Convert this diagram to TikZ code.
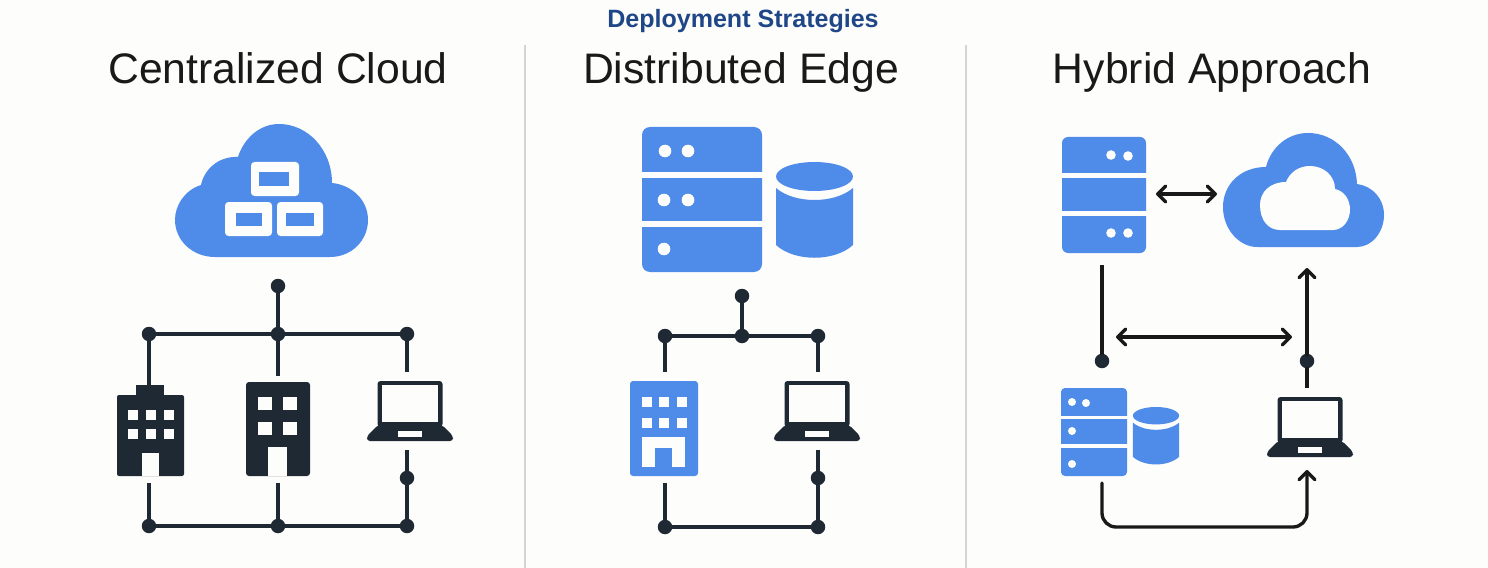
\documentclass[tikz,border=0pt]{standalone}
\usepackage{fontspec}
\setmainfont{Liberation Sans}
\usepackage{xcolor}
\usetikzlibrary{arrows.meta}
\definecolor{paper}{HTML}{FDFDFC}
\definecolor{iconblue}{HTML}{4F8BE8}
\definecolor{ink}{HTML}{1F2933}
\definecolor{titleblue}{HTML}{1F4788}
\definecolor{rulegray}{HTML}{D4D4D2}
\tikzset{
  junction/.style={circle,fill=ink,inner sep=0pt,outer sep=-0.5pt,minimum size=2.9mm},
  wire/.style={draw=ink,line width=1.85pt},
  flow/.style={draw=black!90,line width=1.9pt,line cap=round,
    arrows={-{Straight Barb[length=4.6pt,width=9pt,round]}}},
  flowboth/.style={flow,arrows={{Straight Barb[length=4.6pt,width=9pt,round]}-{Straight Barb[length=4.6pt,width=9pt,round]}}},
  heading/.style={anchor=base,font=\fontsize{24.3}{27}\selectfont,text=black!90},
  laptop/.pic={
    \fill[ink,rounded corners=0.6mm] (-32.5,0) rectangle (32.5,46);
    \fill[paper] (-28,4) rectangle (28,41);
    \fill[ink,rounded corners=0.6mm] (-32,44) -- (32,44) -- (43,55) -- (43,60) -- (-43,60) -- (-43,55) -- cycle;
    \fill[paper] (-12,50) rectangle (12,56);
  },
  drum/.pic={
    \fill[iconblue] (0,14.5) ellipse [x radius=38.5,y radius=14.5];
    \fill[iconblue] (-38.5,26) .. controls (-20,42) and (20,42) .. (38.5,26) -- (38.5,83)
      .. controls (20,100) and (-20,100) .. (-38.5,83) -- cycle;
  }
}

\begin{document}
\begin{tikzpicture}[x=0.2mm,y=-0.2mm]
  \useasboundingbox (0,0) rectangle (1488,568);
  \fill[paper] (0,0) rectangle (1488,568);
  % titles and column rules
  \node[anchor=base,font=\fontsize{14.25}{16}\selectfont\bfseries,text=titleblue] (title) at (743,27.5) {Deployment Strategies};
  \node[heading] (headcloud) at (278,84) {Centralized Cloud};
  \node[heading] (headedge) at (741,84) {Distributed Edge};
  \node[heading] (headhybrid) at (1212,84) {Hybrid Approach};
  \draw[rulegray,line width=0.8pt] (525,45) -- (525,568);
  \draw[rulegray,line width=0.8pt] (966,45) -- (966,568);

  % centralized cloud icon
  \fill[iconblue] (215,257) -- (330,257) .. controls (352,257) and (368,240) .. (368,220)
    .. controls (368,200) and (352,185) .. (332,183) .. controls (332,150) and (308,124) .. (279,124)
    .. controls (260,124) and (244,138) .. (238,157) .. controls (218,156) and (204,170) .. (201,185)
    .. controls (185,190) and (175,205) .. (175,220) .. controls (175,240) and (192,257) .. (215,257) -- cycle;
  \foreach \xa/\xb/\ya/\yb/\ia/\ib/\ja/\jb in {251/299/162/196/259/289/172/186,225/272/202/236/236/262/213/226,277/323/202/236/286/314/213/226} {
    \fill[paper,rounded corners=0.7mm] (\xa,\ya) rectangle (\xb,\yb);
    \fill[iconblue] (\ia,\ja) rectangle (\ib,\jb);
  }
  % tall block with tower
  \fill[ink,rounded corners=0.4mm] (117,395) rectangle (184,476);
  \fill[ink] (136,385) rectangle (164,398);
  \foreach \wx in {128,146,164} \foreach \wy in {410,429}
    \fill[paper] (\wx,\wy) rectangle +(9.5,9.5);
  \fill[paper] (142,453) rectangle (159,476);
  % plain block
  \fill[ink,rounded corners=0.6mm] (246,382) rectangle (310,476);
  \foreach \wx in {258,283} \foreach \wy in {397,422}
    \fill[paper] (\wx,\wy) rectangle +(14,13);
  \fill[paper] (268,447) rectangle (287,476);
  \pic at (410,381) {laptop};
  % network
  \node[junction] (ca) at (278,286) {};
  \node[junction] (cl) at (149,334) {};
  \node[junction] (cm) at (278,334) {};
  \node[junction] (cr) at (407,334) {};
  \node[junction] (bl) at (149,526) {};
  \node[junction] (bm) at (278,526) {};
  \node[junction] (br) at (407,526) {};
  \node[junction] (bt) at (407,478) {};
  \coordinate (towertop) at (149,386);
  \coordinate (blocktop) at (278,376);
  \coordinate (lapatop) at (407,372);
  \coordinate (towerfoot) at (149,483);
  \coordinate (blockfoot) at (278,483);
  \coordinate (lapafoot) at (407,450);
  \draw[wire] (ca) -- (cm);
  \draw[wire] (cl) -- (cm);
  \draw[wire] (cm) -- (cr);
  \draw[wire] (cl) -- (towertop);
  \draw[wire] (cm) -- (blocktop);
  \draw[wire] (cr) -- (lapatop);
  \draw[wire] (towerfoot) -- (bl);
  \draw[wire] (blockfoot) -- (bm);
  \draw[wire] (lapafoot) -- (bt);
  \draw[wire] (bt) -- (br);
  \draw[wire] (bl) -- (bm);
  \draw[wire] (bm) -- (br);

  % distributed edge icons
  \fill[iconblue,rounded corners=1.6mm] (642,127) rectangle (762,272);
  \fill[paper] (640,172) rectangle (764,178);
  \fill[paper] (640,221) rectangle (764,227);
  \foreach \dx/\dy in {665/151,688/151,664/200,688/200,664/249}
    \fill[paper] (\dx,\dy) circle (6.3);
  \pic at (814.5,162) {drum};
  % blue block
  \fill[iconblue,rounded corners=0.6mm] (630,381) rectangle (698,476);
  \foreach \wx in {642,659,677} \foreach \wy in {397,418}
    \fill[paper] (\wx,\wy) rectangle +(9.5,9.5);
  \fill[paper] (642,437) rectangle (685,467);
  \fill[iconblue] (655,448) rectangle (672,467);
  \pic at (817,381) {laptop};
  % network
  \node[junction] (ea) at (742,296) {};
  \node[junction] (el) at (665,336) {};
  \node[junction] (em) at (742,336) {};
  \node[junction] (er) at (818,336) {};
  \node[junction] (fl) at (665,527) {};
  \node[junction] (fr) at (818,527) {};
  \node[junction] (ft) at (818,478) {};
  \coordinate (bluetop) at (665,372);
  \coordinate (lapbtop) at (818,372);
  \coordinate (bluefoot) at (665,483);
  \coordinate (lapbfoot) at (818,450);
  \draw[wire] (ea) -- (em);
  \draw[wire] (el) -- (em);
  \draw[wire] (em) -- (er);
  \draw[wire] (el) -- (bluetop);
  \draw[wire] (er) -- (lapbtop);
  \draw[wire] (bluefoot) -- (fl);
  \draw[wire] (lapbfoot) -- (ft);
  \draw[wire] (ft) -- (fr);
  \draw[wire] (fl) -- (fr);

  % hybrid icons
  \fill[iconblue,rounded corners=1.2mm] (1062,137) rectangle (1146,253);
  \fill[paper] (1060,173) rectangle (1148,178);
  \fill[paper] (1060,211) rectangle (1148,216);
  \foreach \dx/\dy in {1111/155,1128/156,1111/233,1128/233}
    \fill[paper] (\dx,\dy) circle (4.8);
  \fill[iconblue] (1257,247) -- (1357,247) .. controls (1372,247) and (1384,232) .. (1384,215)
    .. controls (1384,198) and (1372,186) .. (1357,184) .. controls (1356,155) and (1335,133) .. (1308,133)
    .. controls (1288,133) and (1271,147) .. (1266,167) .. controls (1240,167) and (1223,185) .. (1223,207)
    .. controls (1223,230) and (1240,247) .. (1257,247) -- cycle;
  \fill[paper] (1280,230) -- (1333,230) .. controls (1343,230) and (1350,220) .. (1350,210)
    .. controls (1350,199) and (1344,191) .. (1335,189) .. controls (1335,176) and (1324,166) .. (1310,166)
    .. controls (1299,166) and (1290,172) .. (1286,182) .. controls (1270,182) and (1260,192) .. (1260,205)
    .. controls (1260,220) and (1268,230) .. (1280,230) -- cycle;
  \fill[iconblue,rounded corners=0.8mm] (1061,388) rectangle (1127,476);
  \fill[paper] (1059,416) rectangle (1129,419);
  \fill[paper] (1059,444) rectangle (1129,448);
  \foreach \dx/\dy in {1072/402,1086/403,1072/431,1072/464}
    \fill[paper] (\dx,\dy) circle (4);
  \pic[scale=0.6] at (1156,407) {drum};
  \pic at (1310,397) {laptop};
  % links
  \node[junction] (hl) at (1102,361) {};
  \node[junction] (hr) at (1307,361) {};
  \coordinate (srvfoot) at (1102,265);
  \coordinate (srvright) at (1156,194);
  \coordinate (cldleft) at (1217,194);
  \coordinate (midleft) at (1116,337);
  \coordinate (midright) at (1292,337);
  \coordinate (lapctop) at (1307,388);
  \coordinate (cldfoot) at (1307,268);
  \coordinate (racksfoot) at (1102,483);
  \coordinate (lapcfoot) at (1307,470);
  \draw[wire,draw=black!90] (srvfoot) -- (hl);
  \draw[flowboth] (srvright) -- (cldleft);
  \draw[flowboth] (midleft) -- (midright);
  \draw[wire,draw=black!90] (lapctop) -- (hr);
  \draw[flow] (hr) -- (cldfoot);
  \draw[flow,rounded corners=2.8mm] (racksfoot) |- (1307,527) -- (lapcfoot);
\end{tikzpicture}
\end{document}
